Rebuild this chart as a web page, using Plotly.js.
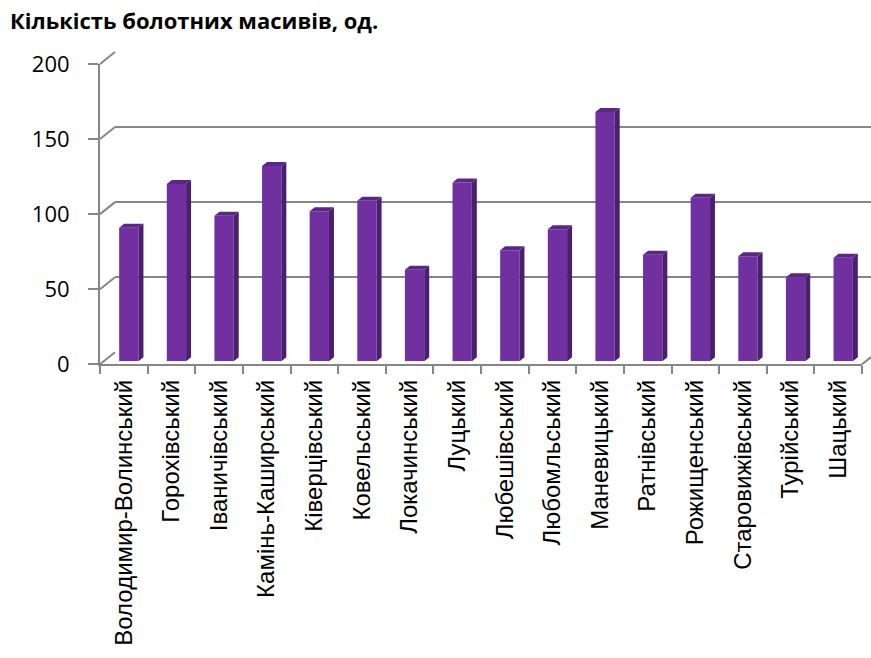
<!DOCTYPE html>
<html>
<head>
<meta charset="utf-8">
<script src="https://cdn.plot.ly/plotly-3.0.1.min.js"></script>
<style>
  html, body { margin: 0; padding: 0; background: #ffffff; }
  #chart { width: 871px; height: 658px; }
</style>
</head>
<body>
<div id="chart"></div>
<script>
// Districts of Volyn oblast
const districts = [
  'Володимир-Волинський', 'Горохівський', 'Іваничівський', 'Камінь-Каширський',
  'Ківерцівський', 'Ковельський', 'Локачинський', 'Луцький',
  'Любешівський', 'Любомльський', 'Маневицький', 'Ратнівський',
  'Рожищенський', 'Старовижівський', 'Турійський', 'Шацький'
];
// Number of bog massifs per district
const bogCounts = [89, 118, 97, 130, 100, 107, 61, 119, 74, 88, 166, 71, 109, 70, 56, 69];
// Value axis ticks
const yTicks = [0, 50, 100, 150, 200];

const W = 871, H = 658;
const GRID = '#868686';
const FRONT = '#7030A0', SIDE = '#4B1F6F', TOP = '#5A2787';

// Frames (pixels): front axis plane, back wall, and the plane of the column faces
const px = (a, b) => [a / W, b / W];
const py = (top, bottom) => [(H - bottom) / H, (H - top) / H];
const frontX = px(100, 862), frontY = py(64, 364.3);
const backX = [115 / W, 1], backY = py(52, 352.3);
const barX = px(105, 867), barY = py(61, 361.3);

// Column depth, in data units of the column plane
const slotPx = (862 - 100) / districts.length;
const depthX = 5 / slotPx;
const depthY = 4 / ((364.3 - 64) / 200);
const barWidth = 0.405;

const idx = districts.map((_, i) => i);

// Side and top faces of the columns, derived from the counts
const sideX = [], sideY = [], topX = [], topY = [];
bogCounts.forEach((v, i) => {
  const xl = i - barWidth / 2, xr = i + barWidth / 2;
  sideX.push(xr, xr + depthX, xr + depthX, xr, xr, null);
  sideY.push(0, depthY, v + depthY, v, 0, null);
  topX.push(xl, xr, xr + depthX, xl + depthX, xl, null);
  topY.push(v, v, v + depthY, v + depthY, v, null);
});

const traces = [
  // category frame (front axes) and back wall grid carry no visible marks
  {
    type: 'scatter', mode: 'markers', x: districts, y: districts.map(() => null),
    xaxis: 'x', yaxis: 'y', hoverinfo: 'skip', marker: { opacity: 0 }
  },
  {
    type: 'scatter', mode: 'markers', x: [0], y: [null],
    xaxis: 'x2', yaxis: 'y2', hoverinfo: 'skip', marker: { opacity: 0 }
  },
  {
    type: 'bar', x: idx, y: bogCounts, xaxis: 'x3', yaxis: 'y3',
    width: barWidth, marker: { color: FRONT, line: { width: 0 } },
    hoverinfo: 'skip'
  },
  {
    type: 'scatter', mode: 'lines', x: sideX, y: sideY, xaxis: 'x3', yaxis: 'y3',
    fill: 'toself', fillcolor: SIDE, line: { width: 0, color: SIDE },
    hoverinfo: 'skip'
  },
  {
    type: 'scatter', mode: 'lines', x: topX, y: topY, xaxis: 'x3', yaxis: 'y3',
    fill: 'toself', fillcolor: TOP, line: { width: 0, color: TOP },
    hoverinfo: 'skip'
  }
];

// Diagonal connectors between the front value axis and the back wall
const yFront = v => frontY[0] + v / 200 * (frontY[1] - frontY[0]);
const yBack = v => backY[0] + v / 200 * (backY[1] - backY[0]);
const shapes = yTicks.map(v => ({
  type: 'line', xref: 'paper', yref: 'paper',
  x0: frontX[0], y0: yFront(v), x1: backX[0], y1: yBack(v),
  line: { color: GRID, width: 2 }
}));
shapes.push({
  type: 'line', xref: 'paper', yref: 'paper',
  x0: frontX[1], y0: yFront(0), x1: 1, y1: yFront(0) + 7.2 / H,
  line: { color: GRID, width: 2 }
});

const layout = {
  width: W, height: H,
  margin: { l: 0, r: 0, t: 0, b: 0, pad: 0 },
  paper_bgcolor: '#ffffff',
  plot_bgcolor: 'rgba(0,0,0,0)',
  showlegend: false,
  hovermode: false,
  title: {
    text: 'Кількість болотних масивів, од.',
    font: { family: '"Open Sans", Lato, sans-serif', size: 22, color: '#000000', weight: 'bold' },
    xref: 'paper', yref: 'paper', x: 10 / W, xanchor: 'left', y: (H - 21) / H, yanchor: 'middle'
  },
  xaxis: {
    type: 'category', domain: frontX, anchor: 'y', range: [-0.5, districts.length - 0.5],
    tickson: 'boundaries', ticks: 'outside', ticklen: 8, tickwidth: 2, tickcolor: GRID,
    showline: true, linecolor: GRID, linewidth: 2, showgrid: false, zeroline: false,
    tickangle: -90, tickfont: { family: '"Liberation Sans", Arial, sans-serif', size: 24, color: '#000000' },
    ticklabelstandoff: 4, fixedrange: true
  },
  yaxis: {
    domain: frontY, anchor: 'x', range: [0, 200], tickvals: yTicks,
    ticks: 'outside', ticklen: 10, tickwidth: 2, tickcolor: GRID,
    showline: true, linecolor: GRID, linewidth: 2, showgrid: false, zeroline: false,
    tickfont: { family: '"Open Sans", Lato, sans-serif', size: 22, color: '#000000' },
    ticklabelstandoff: 14, fixedrange: true
  },
  xaxis2: {
    domain: backX, anchor: 'y2', range: [-0.5, districts.length - 0.5],
    showticklabels: false, ticks: '', showline: false, showgrid: false, zeroline: false
  },
  yaxis2: {
    domain: backY, anchor: 'x2', range: [0, 200], tickvals: yTicks,
    showticklabels: false, ticks: '', showline: false, zeroline: false,
    showgrid: true, gridcolor: GRID, gridwidth: 2
  },
  xaxis3: {
    domain: barX, anchor: 'y3', range: [-0.5, districts.length - 0.5],
    visible: false
  },
  yaxis3: {
    domain: barY, anchor: 'x3', range: [0, 200],
    visible: false
  },
  shapes: shapes
};

Plotly.newPlot('chart', traces, layout, { displayModeBar: false, staticPlot: true });
</script>
</body>
</html>
